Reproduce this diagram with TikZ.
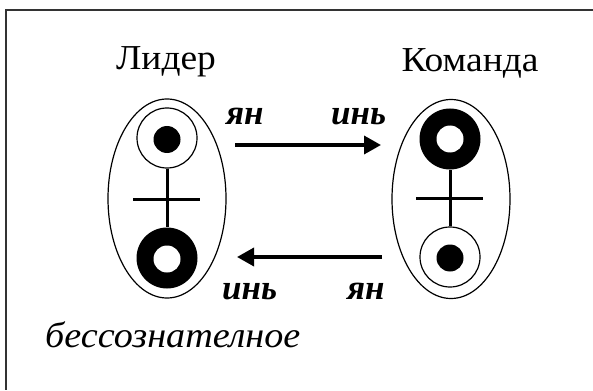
\documentclass[tikz,border=0pt]{standalone}
\usepackage{fontspec}
\setmainfont{Liberation Serif}
\usetikzlibrary{shapes.geometric,arrows.meta}
\begin{document}
\begin{tikzpicture}[x=1pt,y=-1pt,
  shell/.style={draw,ellipse,line width=1.2pt,minimum width=118pt,minimum height=199pt,inner sep=0pt},
  ring/.style={draw,circle,line width=1.2pt,minimum size=60pt,inner sep=0pt},
  disc/.style={fill=black,circle,minimum size=61pt,inner sep=0pt},
  dot/.style={fill=black,circle,minimum size=27pt,inner sep=0pt},
  hole/.style={fill=white,circle,minimum size=27pt,inner sep=0pt},
  stem/.style={line width=3pt},
  flow/.style={line width=3.5pt,-{Triangle[length=17pt,width=18pt]}},
  title/.style={font=\fontsize{35}{40}\selectfont,anchor=base,inner sep=0pt,xscale=1.07},
  force/.style={font=\fontsize{35}{40}\selectfont\bfseries\itshape,anchor=base west,inner sep=0pt},
]
\useasboundingbox (0,0) rectangle (593,390);
\fill[white] (0,0) rectangle (593,390);
% page frame: top and left edges only
\draw[line width=2pt,black!80] (593,10) -- (6,10) -- (6,390);

% leader
\node[title] (lname) at (166,70) {Лидер};
\node[shell] (lshell) at (167,198.5) {};
\node[ring] (ltop) at (167,138) {};
\node[dot] (ldot) at (167,139.5) {};
\node[disc] (lbot) at (167,258) {};
\node[hole] (lhole) at (167,259) {};
\draw[stem] (ltop.south) -- (lbot.north);
\coordinate (lbarw) at (133,199);
\coordinate (lbare) at (200,199);
\draw[stem] (lbarw) -- (lbare);

% team
\node[title] (tname) at (470,72) {Команда};
\node[shell] (tshell) at (451,199) {};
\node[disc] (ttop) at (450,139) {};
\node[hole] (thole) at (450,139) {};
\node[ring] (tbot) at (450,257) {};
\node[dot] (tdot) at (450,258) {};
\draw[stem] (ttop.south) -- (tbot.north);
\coordinate (tbarw) at (416,198);
\coordinate (tbare) at (483,198);
\draw[stem] (tbarw) -- (tbare);

% exchange arrows
\coordinate (upfrom) at (235,145);
\coordinate (upto) at (381,145);
\coordinate (downfrom) at (382,257);
\coordinate (downto) at (237,257);
\draw[flow] (upfrom) -- (upto);
\draw[flow] (downfrom) -- (downto);

\node[force] (yan1) at (226,125) {ян};
\node[force] (yin1) at (331,125) {инь};
\node[force] (yin2) at (222,299) {инь};
\node[force] (yan2) at (347,299) {ян};

\node[font=\fontsize{36}{40}\selectfont\itshape,anchor=base west,inner sep=0pt,xscale=1.06] (unconscious) at (45,347) {бессознателное};
\end{tikzpicture}
\end{document}
